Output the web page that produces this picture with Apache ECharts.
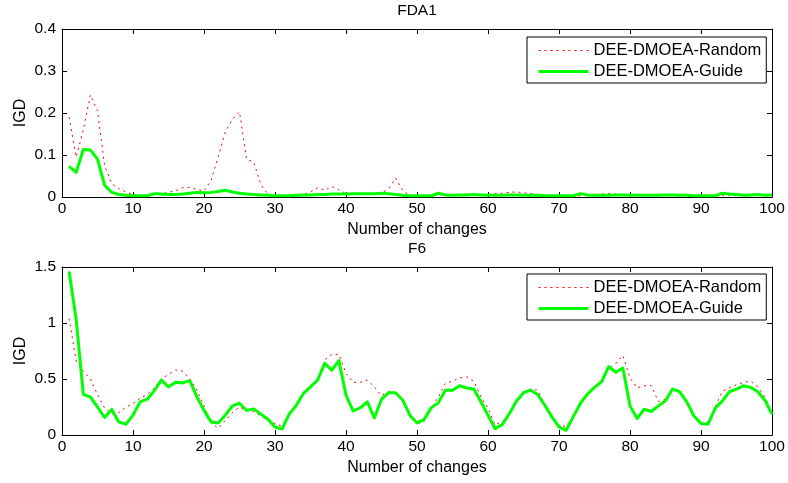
<!DOCTYPE html>
<html>
<head>
<meta charset="utf-8">
<title>IGD over changes</title>
<script src="https://cdn.jsdelivr.net/npm/echarts@6/dist/echarts.min.js"></script>
<style>
  html, body { margin: 0; padding: 0; background: #fff; }
  #chart { width: 788px; height: 483px; }
</style>
</head>
<body>
<div id="chart"></div>
<script>
// x: number of changes
const changes = [
  1, 2, 3, 4, 5, 6, 7, 8, 9, 10, 11, 12, 13, 14, 15, 16, 17, 18, 19, 20,
  21, 22, 23, 24, 25, 26, 27, 28, 29, 30, 31, 32, 33, 34, 35, 36, 37, 38, 39, 40,
  41, 42, 43, 44, 45, 46, 47, 48, 49, 50, 51, 52, 53, 54, 55, 56, 57, 58, 59, 60,
  61, 62, 63, 64, 65, 66, 67, 68, 69, 70, 71, 72, 73, 74, 75, 76, 77, 78, 79, 80,
  81, 82, 83, 84, 85, 86, 87, 88, 89, 90, 91, 92, 93, 94, 95, 96, 97, 98, 99, 100
]

const xTicks = [0, 10, 20, 30, 40, 50, 60, 70, 80, 90, 100]
const fdaTicks = [0, 0.1, 0.2, 0.3, 0.4]
const f6Ticks = [0, 0.5, 1, 1.5]

const seriesNames = ['DEE-DMOEA-Random', 'DEE-DMOEA-Guide']

// FDA1
const fdaRandom = [
  0.19, 0.095, 0.16, 0.243, 0.205, 0.075, 0.032, 0.02, 0.012, 0.006,
  0.004, 0.004, 0.006, 0.008, 0.011, 0.015, 0.022, 0.023, 0.018, 0.014,
  0.04, 0.095, 0.155, 0.185, 0.203, 0.09, 0.083, 0.03, 0.006, 0.003,
  0.002, 0.003, 0.004, 0.006, 0.012, 0.022, 0.016, 0.025, 0.017, 0.008,
  0.006, 0.007, 0.008, 0.008, 0.009, 0.02, 0.045, 0.015, 0.004, 0.003,
  0.002, 0.003, 0.004, 0.005, 0.006, 0.006, 0.007, 0.006, 0.006, 0.006,
  0.008, 0.009, 0.011, 0.012, 0.01, 0.008, 0.006, 0.004, 0.003, 0.003,
  0.003, 0.002, 0.003, 0.004, 0.006, 0.007, 0.008, 0.007, 0.006, 0.005,
  0.004, 0.004, 0.004, 0.004, 0.005, 0.004, 0.004, 0.003, 0.003, 0.003,
  0.002, 0.003, 0.004, 0.004, 0.003, 0.004, 0.006, 0.007, 0.005, 0.004
]
const fdaGuide = [
  0.073, 0.059, 0.113, 0.112, 0.09, 0.028, 0.011, 0.006, 0.004, 0.003,
  0.003, 0.003, 0.008, 0.007, 0.006, 0.006, 0.007, 0.009, 0.011, 0.01,
  0.011, 0.013, 0.016, 0.012, 0.009, 0.007, 0.006, 0.005, 0.004, 0.003,
  0.003, 0.003, 0.004, 0.005, 0.005, 0.006, 0.006, 0.007, 0.007, 0.007,
  0.008, 0.008, 0.008, 0.008, 0.009, 0.008, 0.006, 0.004, 0.003, 0.003,
  0.003, 0.003, 0.009, 0.005, 0.004, 0.005, 0.005, 0.006, 0.005, 0.004,
  0.004, 0.004, 0.005, 0.005, 0.004, 0.004, 0.004, 0.003, 0.003, 0.003,
  0.003, 0.003, 0.008, 0.005, 0.004, 0.004, 0.004, 0.005, 0.005, 0.004,
  0.004, 0.004, 0.004, 0.004, 0.005, 0.005, 0.004, 0.004, 0.003, 0.003,
  0.003, 0.003, 0.009, 0.007, 0.006, 0.004, 0.005, 0.006, 0.004, 0.005
]

// F6
const f6Random = [
  1.04, 0.66, 0.57, 0.5, 0.36, 0.24, 0.19, 0.2, 0.25, 0.28,
  0.33, 0.36, 0.42, 0.5, 0.54, 0.58, 0.57, 0.5, 0.4, 0.26,
  0.11, 0.06, 0.13, 0.2, 0.25, 0.22, 0.21, 0.17, 0.13, 0.1,
  0.08, 0.18, 0.27, 0.37, 0.43, 0.49, 0.67, 0.72, 0.72, 0.55,
  0.47, 0.47, 0.49, 0.43, 0.35, 0.39, 0.38, 0.31, 0.16, 0.1,
  0.12, 0.24, 0.34, 0.46, 0.48, 0.51, 0.52, 0.48, 0.34, 0.24,
  0.09, 0.12, 0.18, 0.3, 0.38, 0.41, 0.4, 0.27, 0.17, 0.09,
  0.075, 0.17, 0.28, 0.37, 0.43, 0.49, 0.59, 0.64, 0.71, 0.51,
  0.42, 0.44, 0.44, 0.3, 0.32, 0.4, 0.39, 0.3, 0.17, 0.1,
  0.12, 0.25, 0.39, 0.42, 0.45, 0.47, 0.48, 0.43, 0.34, 0.2
]
const f6Guide = [
  1.46, 1.03, 0.362, 0.338, 0.25, 0.156, 0.228, 0.117, 0.096, 0.177,
  0.296, 0.32, 0.395, 0.49, 0.43, 0.47, 0.465, 0.485, 0.34, 0.22,
  0.117, 0.108, 0.177, 0.26, 0.284, 0.219, 0.233, 0.186, 0.141, 0.072,
  0.054, 0.186, 0.265, 0.371, 0.43, 0.49, 0.64, 0.578, 0.664, 0.356,
  0.215, 0.242, 0.296, 0.152, 0.32, 0.377, 0.377, 0.311, 0.177, 0.108,
  0.138, 0.242, 0.287, 0.4, 0.4, 0.44, 0.42, 0.41, 0.296, 0.177,
  0.057, 0.093, 0.19, 0.302, 0.377, 0.4, 0.362, 0.266, 0.162, 0.072,
  0.042, 0.162, 0.281, 0.365, 0.425, 0.475, 0.61, 0.56, 0.598, 0.26,
  0.147, 0.23, 0.21, 0.26, 0.305, 0.41, 0.386, 0.296, 0.17, 0.102,
  0.096, 0.24, 0.302, 0.386, 0.41, 0.44, 0.425, 0.386, 0.311, 0.186
]

const font = "'Liberation Sans', Arial, Helvetica, sans-serif"

function pairs (values) {
  return changes.map((c, i) => [c, values[i]])
}

function ticksRange (ticks) {
  return { min: ticks[0], max: ticks[ticks.length - 1], interval: ticks[1] - ticks[0] }
}

function xAxisOf (gridIndex, position) {
  let main = position === 'bottom'
  return Object.assign({
    type: 'value',
    gridIndex: gridIndex,
    position: position,
    name: main ? 'Number of changes' : '',
    nameLocation: 'middle',
    nameGap: 25,
    nameTextStyle: { fontFamily: font, fontSize: 16, color: '#000' },
    axisLine: { show: true, onZero: false, lineStyle: { color: '#000', width: 1 } },
    axisTick: { show: true, inside: true, length: 5, lineStyle: { color: '#000' } },
    axisLabel: { show: main, margin: 4, fontFamily: font, fontSize: 15.5, color: '#000' },
    splitLine: { show: false }
  }, ticksRange(xTicks))
}

function yAxisOf (gridIndex, position, ticks) {
  let main = position === 'left'
  return Object.assign({
    type: 'value',
    gridIndex: gridIndex,
    position: position,
    name: main ? 'IGD' : '',
    nameLocation: 'middle',
    nameGap: 33,
    nameMoveOverlap: false,
    nameTextStyle: { fontFamily: font, fontSize: 16, color: '#000' },
    axisLine: { show: true, onZero: false, lineStyle: { color: '#000', width: 1 } },
    axisTick: { show: true, inside: true, length: 5, lineStyle: { color: '#000' } },
    axisLabel: { show: main, margin: 6, fontFamily: font, fontSize: 15.5, color: '#000' },
    splitLine: { show: false }
  }, ticksRange(ticks))
}

function legendAt (top) {
  return {
    data: seriesNames,
    orient: 'vertical',
    left: 527,
    top: top,
    padding: [5, 5, 3, 10],
    itemWidth: 50,
    itemHeight: 14,
    itemGap: 4,
    backgroundColor: '#fff',
    borderColor: '#000',
    borderWidth: 1,
    borderRadius: 0,
    // line sample only, no marker in the middle
    itemStyle: { color: 'rgba(0,0,0,0)', borderColor: 'rgba(0,0,0,0)', borderWidth: 0, opacity: 0 },
    lineStyle: { width: 'inherit' },
    textStyle: { fontFamily: font, fontSize: 16.5, lineHeight: 16, color: '#000' }
  }
}

function randomLine (data, xi, yi) {
  return {
    name: seriesNames[0],
    type: 'line',
    xAxisIndex: xi,
    yAxisIndex: yi,
    data: pairs(data),
    symbol: 'none',
    showSymbol: false,
    animation: false,
    lineStyle: { color: '#ff0000', width: 1, type: [2, 4] },
    itemStyle: { color: '#ff0000' }
  }
}

function guideLine (data, xi, yi) {
  return {
    name: seriesNames[1],
    type: 'line',
    xAxisIndex: xi,
    yAxisIndex: yi,
    data: pairs(data),
    symbol: 'none',
    showSymbol: false,
    animation: false,
    lineStyle: { color: '#00ff00', width: 3, join: 'round' },
    itemStyle: { color: '#00ff00' }
  }
}

let chart = echarts.init(document.getElementById('chart'), null, { renderer: 'canvas' })

chart.setOption({
  animation: false,
  backgroundColor: '#fff',
  title: [
    { text: 'FDA1', left: 417, top: 3, padding: 0, textAlign: 'center',
      textStyle: { fontFamily: font, fontSize: 15.5, fontWeight: 'normal', color: '#000' } },
    { text: 'F6', left: 417, top: 241, padding: 0, textAlign: 'center',
      textStyle: { fontFamily: font, fontSize: 15.5, fontWeight: 'normal', color: '#000' } }
  ],
  legend: [legendAt(37), legendAt(274)],
  grid: [
    { left: 62, top: 29, width: 710, height: 168 },
    { left: 62, top: 267, width: 710, height: 168 }
  ],
  xAxis: [
    xAxisOf(0, 'bottom'), xAxisOf(0, 'top'),
    xAxisOf(1, 'bottom'), xAxisOf(1, 'top')
  ],
  yAxis: [
    yAxisOf(0, 'left', fdaTicks), yAxisOf(0, 'right', fdaTicks),
    yAxisOf(1, 'left', f6Ticks), yAxisOf(1, 'right', f6Ticks)
  ],
  series: [
    // top panel
    randomLine(fdaRandom, 0, 0),
    guideLine(fdaGuide, 0, 0),
    // bottom panel
    randomLine(f6Random, 2, 2),
    guideLine(f6Guide, 2, 2)
  ]
})
</script>
</body>
</html>
